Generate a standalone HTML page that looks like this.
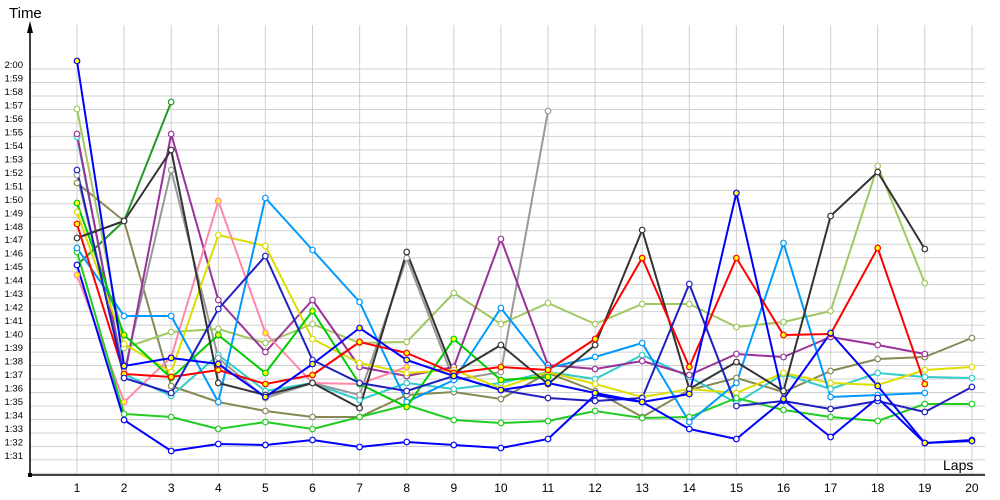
<!DOCTYPE html>
<html><head><meta charset="utf-8">
<style>
html,body{margin:0;padding:0;background:#fff;}
svg{display:block;font-family:"Liberation Sans",sans-serif;}
</style></head>
<body>
<svg id="c" width="1000" height="500" viewBox="0 0 1000 500" xmlns="http://www.w3.org/2000/svg">
<rect width="1000" height="500" fill="#fff"/>
<g id="grid"></g>
<g id="series"></g>
<line x1="30" y1="475" x2="985" y2="475" stroke="#000" stroke-width="1.5"/>
<line x1="30" y1="30" x2="30" y2="475" stroke="#000" stroke-width="1.5"/>
<polygon points="30,21 27,33 33,33" fill="#000"/>
<rect x="28" y="473" width="4" height="4" fill="#000"/>
<text x="9" y="18" font-size="15" fill="#000">Time</text>
<text x="943" y="470" font-size="14" fill="#000">Laps</text>
<g id="labels"></g>
</svg>
<script>
var NS="http://www.w3.org/2000/svg";
function el(n,a,p,t){var e=document.createElementNS(NS,n);for(var k in a)e.setAttribute(k,a[k]);if(t!==undefined)e.textContent=t;p.appendChild(e);return e;}
var grid=document.getElementById('grid'),lab=document.getElementById('labels'),ser=document.getElementById('series');
function X(i){return 77+(i-1)*47.1;}
function Yt(s){return 69+(120-s)*13.48;}
for(var s=90;s<=120;s++){var y=Yt(s);el('line',{x1:30,y1:y,x2:985,y2:y,stroke:'#cfcfcf','stroke-width':1},grid);
 if(s>=91){var m=Math.floor(s/60),ss=s%60;el('text',{x:23,y:y-1,'font-size':9.5,'text-anchor':'end',fill:'#000'},lab,m+':'+(ss<10?'0':'')+ss);}}
for(var i=1;i<=20;i++){el('line',{x1:X(i),y1:25,x2:X(i),y2:475,stroke:'#cfcfcf','stroke-width':1},grid);
 el('text',{x:X(i),y:492,'font-size':12,'text-anchor':'middle',fill:'#000'},lab,''+i);}
var S=[
['#888855',0,[183,221,386,402,411,417,417,395,392,399,373,391,417,390,378,392,371,359,357,338]],
['#33cccc',0,[137,374,396,355,391,383,400,383,389,383,372,379,355,377,403,374,389,373,377,378]],
['#999999',0,[175,372,170,358,398,383,395,258,380,372,111]],
['#229922',0,[265,221,102]],
['#a0c860',0,[109,348,332,329,343,324,343,342,293,324,303,324,304,304,327,322,311,166,283]],
['#993399',0,[134,378,134,300,352,300,367,376,367,239,365,369,361,375,354,357,337,345,354]],
['#dddd00',0,[212,344,372,235,246,339,363,373,370,388,372,384,397,389,393,373,383,385,370,367]],
['#ff88aa',1,[275,402,357,201,333,383,384,367]],
['#22cc22',0,[252,414,417,429,422,429,417,405,420,423,421,411,418,417,398,410,417,421,404,404]],
['#0099ff',0,[248,316,316,402,198,250,302,402,380,308,368,357,343,422,383,243,397,395,393]],
['#00cc00',1,[203,335,378,335,373,311,384,407,339,380,377]],
['#333333',0,[238,221,150,383,395,383,408,252,373,345,384,345,230,389,362,391,216,172,249]],
['#ff0000',1,[224,374,377,370,384,375,342,353,373,367,370,339,258,367,258,335,334,248,384]],
['#2020c0',0,[170,378,393,309,256,360,383,391,376,390,398,401,398,284,406,401,409,401,412,387]],
['#0000ff',0,[265,420,451,444,445,440,447,442,445,448,439,395,402,429,439,400,437,398,443,440]],
['#0000ff',1,[61,366,358,364,397,364,328,360,376,390,383,393,402,394,193,399,333,386,443,441]]
];
S.forEach(function(s){var pts=s[2].map(function(y,i){return X(i+1).toFixed(1)+','+y;}).join(' ');
 el('polyline',{points:pts,fill:'none',stroke:s[0],'stroke-width':2,'stroke-linejoin':'round'},ser);});
S.forEach(function(s){s[2].forEach(function(y,i){el('circle',{cx:X(i+1),cy:y,r:2.8,fill:s[1]?'#ffff00':'#fff',stroke:s[0],'stroke-width':1.2},ser);});});
</script>
</body></html>
